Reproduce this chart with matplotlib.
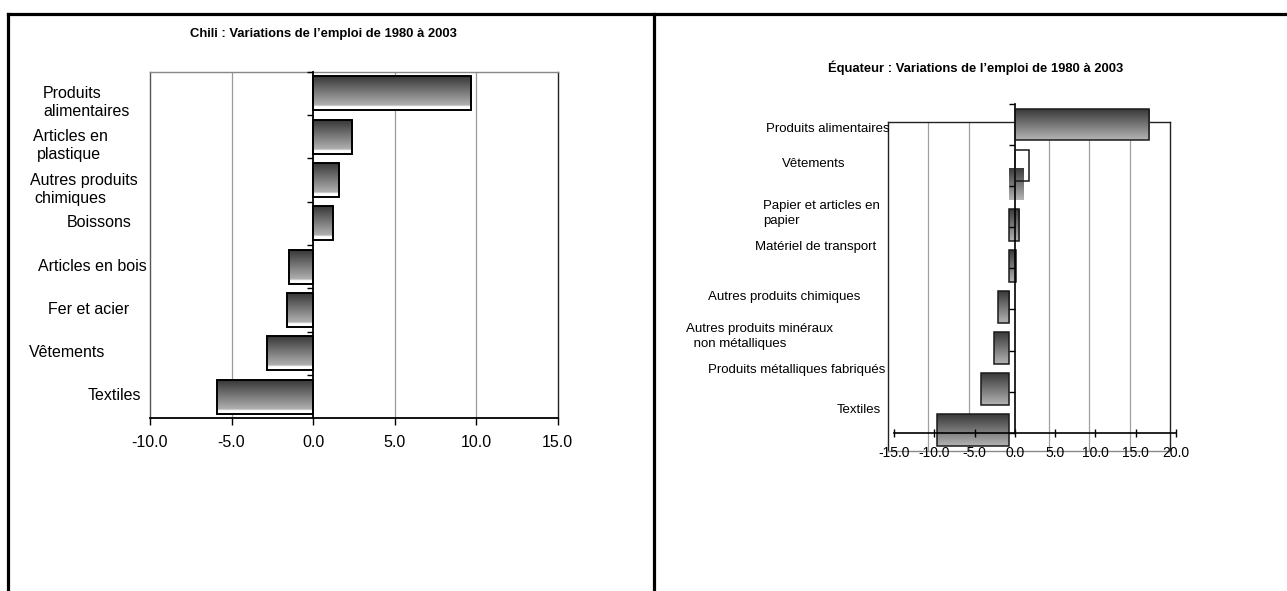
import numpy as np
import matplotlib
matplotlib.use("Agg")
import matplotlib.pyplot as plt
from matplotlib import font_manager
from matplotlib.colors import LinearSegmentedColormap
from matplotlib.lines import Line2D

# ------------------------------------------------------------------ data
chili_title = "Chili : Variations de l’emploi de 1980 à 2003"
chili_categories = ["Produits\nalimentaires", "Articles en\nplastique",
                    "Autres produits\nchimiques", "Boissons", "Articles en bois",
                    "Fer et acier", "Vêtements", "Textiles"]
chili_values = [9.7, 2.4, 1.6, 1.2, -1.5, -1.6, -2.8, -5.9]
chili_xticks = [-10, -5, 0, 5, 10, 15]

eq_title = "Équateur : Variations de l’emploi de 1980 à 2003"
eq_categories = ["Produits alimentaires", "Vêtements", "Papier et articles en\npapier",
                 "Matériel de transport", "Autres produits chimiques",
                 "Autres produits minéraux\n non métalliques",
                 "Produits métalliques fabriqués", "Textiles"]
eq_values = [16.7, 1.8, 1.3, 0.85, -1.4, -1.8, -3.4, -8.9]
eq_xticks = [-15, -10, -5, 0, 5, 10, 15, 20]

# ------------------------------------------------------------------ layout (pixels)
W, H = 1287, 591
chili_label_pos = [[(43, 94), (43, 111.7)], [(33.2, 136.7), (37.3, 154.3)],
                   [(29.9, 180), (34, 198.3)], [(67.2, 222.7)], [(38.2, 266.7)],
                   [(48.1, 309.3)], [(29, 352.3)], [(87.9, 395.7)]]
eq_label_pos = [[(766, 129)], [(781.7, 164)], [(762.7, 206), (762.7, 220.7)],
                [(755, 246.7)], [(707.7, 297.3)], [(686, 329.3), (690, 344.3)],
                [(707.7, 370)], [(836.7, 410.3)]]
# which layer each Ecuador bar is rendered in (glitchy original rendering)
eq_fill_layer = ["axis", "grid", "grid", "grid", "grid", "grid", "grid", "grid"]
eq_edge_layer = ["axis", "axis", "grid", "grid", "grid", "grid", "grid", "grid"]


def fx(px):
    return px / W


def fy(py):
    return 1 - py / H


def rect(x0, y0, x1, y1):
    return [x0 / W, 1 - y1 / H, (x1 - x0) / W, (y1 - y0) / H]


plt.rcParams["font.family"] = ["Liberation Sans", "DejaVu Sans"]
names = {f.name for f in font_manager.fontManager.ttflist}
if "Liberation Sans Narrow" in names:
    title_family, title_size = ["Liberation Sans Narrow", "Liberation Sans"], 11.5
else:
    title_family, title_size = ["Liberation Sans", "DejaVu Sans"], 9.4

grad_cmap = LinearSegmentedColormap.from_list(
    "g", [(0, "#333333"), (0.86, "#b0b0b0"), (0.9, "#ffffff"), (1, "#ffffff")])
grad_cmap_plain = LinearSegmentedColormap.from_list(
    "g2", [(0, "#353535"), (1, "#b4b4b4")])
grad = np.linspace(0, 1, 256).reshape(-1, 1)


def paint_gradient(ax, patch, cmap):
    x0, y0 = patch.get_x(), patch.get_y()
    w, h = patch.get_width(), patch.get_height()
    im = ax.imshow(grad, cmap=cmap, extent=(x0, x0 + w, y0 + h, y0),
                   aspect="auto", origin="upper", interpolation="bilinear",
                   zorder=patch.get_zorder() - 0.5)
    im.set_clip_path(patch)


fig = plt.figure(figsize=(W / 100, H / 100), dpi=100)

# frame lines of the page
fig.add_artist(Line2D([fx(8), 1], [fy(14), fy(14)], lw=2.3, color="black"))
fig.add_artist(Line2D([fx(8), fx(8)], [fy(14), 0], lw=2.3, color="black"))
fig.add_artist(Line2D([fx(654), fx(654)], [fy(14), 0], lw=2.3, color="black"))

# ================================================================== Chili
n = len(chili_values)
yy = np.arange(n)
ax = fig.add_axes(rect(150, 71.7, 557.7, 418.3))
bars = ax.barh(yy, chili_values, height=0.79, facecolor="none",
               edgecolor="black", linewidth=1.4, zorder=3)
for p in bars:
    paint_gradient(ax, p, grad_cmap)
for t in chili_xticks[1:-1]:
    if t != 0:
        ax.axvline(t, color="#9a9a9a", lw=0.9, zorder=0.5)
ax.set_xlim(chili_xticks[0], chili_xticks[-1])
ax.set_ylim(n - 0.5, -0.5)
ax.set_xticks(chili_xticks)
ax.set_xticklabels([f"{t:.1f}" for t in chili_xticks])
ax.set_yticks([])
ax.tick_params(axis="x", direction="out", length=5, width=1, labelsize=11.5, pad=7)
ax.spines["top"].set_color("#888888")
ax.spines["left"].set_color("#555555")
ax.spines["right"].set_color("#222222")
ax.spines["bottom"].set_color("black")
for s in ax.spines.values():
    s.set_linewidth(1)
ax.spines["bottom"].set_linewidth(1.3)

# zero axis with category ticks
axz = fig.add_axes(rect(150, 71.7, 557.7, 418.3), zorder=5)
axz.patch.set_visible(False)
for k in ["top", "right", "bottom"]:
    axz.spines[k].set_visible(False)
axz.spines["left"].set_position(("data", 0))
axz.spines["left"].set_linewidth(1.3)
axz.set_xlim(chili_xticks[0], chili_xticks[-1])
axz.set_ylim(n - 0.5, -0.5)
axz.set_xticks([])
axz.set_yticks(np.arange(n) - 0.5)
axz.set_yticklabels([])
axz.tick_params(axis="y", direction="out", length=4, width=1)

fig.text(fx(323.8), fy(34), chili_title, ha="center", va="center",
         family=title_family, fontsize=title_size, fontweight="bold")
for lab, pos in zip(chili_categories, chili_label_pos):
    for line, (px, py) in zip(lab.split("\n"), pos):
        fig.text(fx(px), fy(py), line, ha="left", va="center", fontsize=11.5)

# ================================================================== Ecuador
m = len(eq_values)
ym = np.arange(m)

# plot-area layer (box, gridlines, most bars), drawn offset as in the original
axg = fig.add_axes(rect(888, 122, 1170, 451), zorder=1)
gbars = axg.barh(ym, eq_values, height=0.78, facecolor="none",
                 edgecolor="#1a1a1a", linewidth=1.1, zorder=3)
for p, fl, el in zip(gbars, eq_fill_layer, eq_edge_layer):
    if fl == "grid":
        paint_gradient(axg, p, grad_cmap_plain)
    if el != "grid":
        p.set_edgecolor("none")
    if fl != "grid" and el != "grid":
        p.set_visible(False)
for t in eq_xticks[1:-1]:
    if t != 0:
        axg.axvline(t, color="#a0a0a0", lw=0.9, zorder=0.5)
axg.set_xlim(eq_xticks[0], eq_xticks[-1])
axg.set_ylim(m - 0.5, -0.5)
axg.set_xticks([])
axg.set_yticks([])
for k in ["top", "left", "right"]:
    axg.spines[k].set_color("#222222")
axg.spines["bottom"].set_color("#8a8a8a")
for s in axg.spines.values():
    s.set_linewidth(1)

# axis layer
axa = fig.add_axes(rect(894, 104, 1176, 432.7), zorder=2)
axa.patch.set_visible(False)
abars = axa.barh(ym, eq_values, height=0.76, facecolor="none",
                 edgecolor="#1a1a1a", linewidth=1.1, zorder=3)
for p, fl, el in zip(abars, eq_fill_layer, eq_edge_layer):
    if fl == "axis":
        paint_gradient(axa, p, grad_cmap_plain)
    if el != "axis":
        p.set_edgecolor("none")
    if fl != "axis" and el != "axis":
        p.set_visible(False)
axa.set_xlim(eq_xticks[0], eq_xticks[-1])
axa.set_ylim(m - 0.5, -0.5)
for k in ["top", "right"]:
    axa.spines[k].set_visible(False)
axa.spines["left"].set_position(("data", 0))
axa.spines["left"].set_linewidth(1.2)
axa.spines["bottom"].set_linewidth(1.2)
axa.set_xticks(eq_xticks)
axa.set_xticklabels([f"{t:.1f}" for t in eq_xticks])
axa.set_yticks(np.arange(m + 1) - 0.5)
axa.set_yticklabels([])
axa.tick_params(axis="x", direction="inout", length=6, width=1, labelsize=10, pad=6.5)
axa.tick_params(axis="y", direction="out", length=4, width=1)

fig.text(fx(976), fy(68), eq_title, ha="center", va="center",
         family=title_family, fontsize=title_size, fontweight="bold")
for lab, pos in zip(eq_categories, eq_label_pos):
    for line, (px, py) in zip(lab.split("\n"), pos):
        fig.text(fx(px), fy(py), line, ha="left", va="center", fontsize=9.5)

fig.savefig("out.png", dpi=100)
